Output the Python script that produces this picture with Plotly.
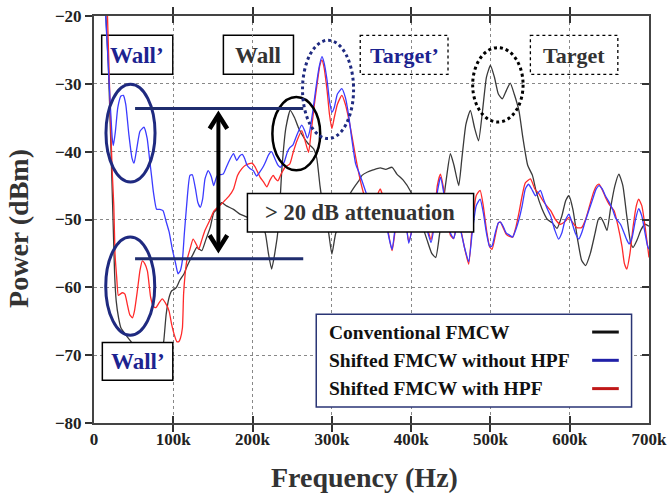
import plotly.graph_objects as go

# ---------------- data (frequency in kHz, power in dBm) ----------------
conv_f = [15, 18, 21, 24, 26, 28, 31, 34, 40, 46, 52, 60, 70, 80, 86, 88, 91, 94.7, 98, 101, 104, 108,
          113.6, 117, 121, 125, 129.6, 133, 136, 141, 146.5, 151, 155, 161, 167, 176, 184, 190, 200,
          210, 216, 220, 224, 228, 232.7, 237, 242, 247.5, 253, 258, 264, 270, 277, 281, 285, 290,
          296, 300, 305, 312, 318, 323, 329.5, 334, 338, 345, 352, 361, 368, 376, 382, 390, 399,
          406, 413, 420, 426, 431, 436, 441, 445, 449.5, 454, 460, 464, 469, 474.7, 480, 485, 490,
          495, 500, 505, 510, 515, 520, 525, 530, 536, 541, 547, 553, 558, 565, 572, 578, 584, 590,
          595, 599, 604, 610, 615, 620, 626, 632, 636, 639, 643, 647, 652, 657, 662, 667, 672, 677,
          680, 685, 690, 695, 700]
conv_p = [-20, -27, -38, -50, -58, -62, -64.5, -66, -67, -67.9, -69, -71, -72, -71, -69, -67.9, -64,
          -61.5, -60.5, -60.3, -60, -59, -58, -57, -56, -55.1, -54.1, -54.4, -54.6, -53, -51.2, -49,
          -48.5, -47.5, -48, -48.5, -49.2, -49.5, -50, -50.5, -52, -55, -57.3, -55, -51, -42.5, -36.5,
          -33.9, -35, -36.5, -37.8, -38.8, -39.6, -41, -45, -49, -52, -55.1, -52, -50.5, -49, -46.2,
          -45, -44.3, -43.5, -43, -42.7, -42.4, -42.6, -42.3, -43.3, -44.2, -45.8, -48, -50.5, -53,
          -55, -55.6, -52, -47, -43.5, -40.3, -42, -45, -41, -36, -33.9, -36.5, -38.4, -34, -29,
          -27.3, -29, -31.5, -32.2, -31, -29.9, -31.5, -34, -38, -42, -43.5, -46, -48.4, -50, -50.5,
          -51.3, -49.5, -47.2, -46.5, -48.5, -53, -56, -56.8, -55, -52, -50, -49.7, -50.5, -51.6,
          -48, -45, -43.3, -45, -49.5, -53.5, -54.1, -53, -51.5, -50.7, -51]

nohpf_f = [14.7, 17, 19, 21, 23, 24.4, 27, 30, 34, 37, 40, 44, 48, 50.5, 54, 58, 63, 67, 70, 72.8, 75,
           79, 83, 87, 91, 94.7, 99, 103, 106, 109, 111.5, 114, 117, 121, 124, 128, 131, 134, 137,
           140, 144, 148, 151, 155, 159, 163, 168, 172, 176, 180, 184, 187, 190, 193, 197, 201, 205,
           209, 213, 216, 220, 224, 228, 232, 235, 240, 244, 247, 251, 256, 262, 266, 269, 272, 276,
           280, 284, 287.5, 290, 294, 297, 300, 303, 307, 312.6, 317, 321, 325, 330, 334, 338, 343,
           348, 352, 356, 361, 366, 370, 376, 380, 384, 389, 393, 397, 401, 405, 410, 415, 420, 425,
           429, 433, 437, 441, 445, 449.5, 453.6, 458, 462, 467, 472.6, 477, 482, 487, 491, 495, 499,
           502, 506, 510, 512.6, 516, 520, 524, 528, 532, 536, 540, 544, 548, 552, 557, 563, 567,
           572, 576, 581, 586, 590, 594, 599, 603, 607, 611.5, 615, 619, 624, 629, 633, 637, 641,
           645, 649, 654, 658, 664, 668, 672, 675, 679, 683, 687, 691, 695, 698, 700]
nohpf_p = [-20, -25, -29.6, -34, -38, -39.1, -37, -33.5, -31.8, -31.7, -33, -37.5, -41, -41.7, -39.5,
           -37, -36.4, -38, -41, -43.8, -46, -48.5, -48.5, -48.7, -50.3, -51.8, -54.5, -56.5, -58,
           -57.5, -56, -52, -47.7, -43.5, -43.4, -45.5, -47.5, -48.2, -47, -44, -42.8, -43.7, -45,
           -43.6, -43.4, -43.3, -42, -41, -40.3, -41.3, -40.6, -40.4, -41, -42, -42.5, -42.8, -43.6,
           -43, -42.3, -41.6, -40.5, -40, -41, -42, -42.3, -41.5, -40, -39.4, -39, -37.5, -36.1, -37,
           -38, -37, -34, -30.5, -27.5, -26, -26.8, -29.5, -32.5, -34.2, -33.5, -31.5, -30.7, -32,
           -34.5, -38, -41.8, -43, -44.3, -46, -47.5, -48.5, -47.5, -46.2, -48, -51.5, -54.4, -51,
           -48, -47.5, -50, -53.5, -51.5, -48.5, -47.5, -49.5, -51.5, -53.4, -51, -46, -43.8, -46,
           -49.5, -52, -52.8, -51, -51.5, -54, -56.2, -52, -48, -47, -49, -52, -54, -53.9, -52,
           -50.5, -50.4, -51, -52, -52.3, -52.6, -51.5, -50, -48, -45.5, -44.8, -45.5, -46.5, -45.7,
           -47, -48.5, -49.5, -51.5, -52.9, -52, -50.2, -49.2, -50.5, -52, -52.9, -52, -50.5, -48.7,
           -47, -45.6, -45, -45.5, -46.5, -47.3, -48.5, -49.8, -50.7, -51.8, -53, -53.6, -52.5, -50,
           -48.4, -49.5, -52, -53.8, -54.4]

hpf_f = [17, 19, 21, 23, 25, 26.5, 28.6, 30.7, 33, 35.8, 39, 42, 45, 48.4, 51, 54.7, 58, 61, 64, 67.4,
         71.5, 75, 78, 82, 86, 90, 94.7, 98, 101, 104.4, 107, 109, 111.5, 113, 115, 117, 121, 125,
         129.6, 132, 136, 140, 146.5, 151, 155, 160, 165, 170, 176, 181, 186.5, 191, 195, 199, 203,
         209.6, 214, 218, 222, 226, 229, 232, 236, 241, 247, 251, 256, 262, 266, 270.6, 274, 278,
         282, 285, 287.5, 290, 294, 297, 300, 303, 307, 312.6, 317, 321, 325, 330, 336, 341, 346,
         352, 357, 361, 366, 370, 376, 380, 384, 389, 393, 397, 401, 405, 410, 415, 420, 425, 429,
         433, 437, 441, 445, 449.5, 453.6, 458, 462, 467, 472.6, 477, 482, 487, 491, 495, 499, 502,
         506, 510, 512.6, 516, 520, 524, 528, 532, 536, 540, 544, 550.5, 556, 561, 566, 571, 576,
         582, 588, 594, 599, 604, 609, 615, 620, 625, 630, 634, 637, 641, 645, 650, 656, 661, 666,
         669, 672, 676, 680, 684, 687, 691, 695, 700]
hpf_p = [-20, -28, -36, -43, -48, -55, -58.5, -61.2, -61, -60.8, -61, -62.5, -64, -64.5, -63.5, -60.5,
         -57.5, -56.1, -56.5, -57.6, -61.5, -62.8, -63, -62.3, -61.7, -62.3, -63.5, -65.5, -66.9, -68,
         -68, -67.5, -66, -61, -58, -56.1, -54.4, -52.9, -53.8, -54.4, -53, -51.6, -50, -48.8, -48.3,
         -47.8, -47.2, -46.6, -45.5, -43.5, -42.5, -42, -41.8, -41.7, -42.2, -43.8, -44.5, -45.2,
         -44.2, -43.5, -44, -44.3, -43.3, -42.3, -41.8, -40.2, -38.4, -36.9, -38.3, -40.1, -37, -33,
         -29.5, -27.2, -26.5, -27.5, -31, -34.5, -36.6, -35, -33, -31.7, -33, -35, -37.5, -40.8,
         -44.3, -46.5, -48, -48.3, -46.5, -45.5, -47.5, -51, -54.6, -51.5, -48.5, -47.5, -50, -53.3,
         -51.5, -48.5, -47, -49, -51, -53, -50, -45, -43.3, -45.5, -49, -52.3, -52.8, -50.7, -51.3,
         -54, -56.6, -51, -46.5, -45.7, -48, -51.5, -54, -54.4, -52.5, -50.5, -50.4, -51.2, -52.2,
         -52.5, -52.6, -51.2, -49, -46.5, -44.6, -44, -45.5, -46.2, -47.2, -48, -48.7, -50, -50.7,
         -50.3, -49.7, -50.5, -51.2, -51.2, -50, -48, -46, -45, -44.8, -45.6, -46.7, -47.8, -48.7,
         -51, -54, -56.5, -57.3, -55, -51, -48, -47, -48, -51, -55.6]

series_names = ["Conventional FMCW", "Shifted FMCW without HPF", "Shifted FMCW with HPF"]
x_tick_vals_k = [0, 100, 200, 300, 400, 500, 600, 700]
x_tick_text = ["0", "100k", "200k", "300k", "400k", "500k", "600k", "700k"]
y_tick_vals = [-80, -70, -60, -50, -40, -30, -20]

# ---------------- figure ----------------
SERIF = "Liberation Serif, Times New Roman, serif"
NAVY = "#1f2a80"
DARK = "#333333"

def hz(v):
    return [a * 1000 for a in v]

fig = go.Figure()
curves = [
    (conv_f, conv_p, "#3a3a3a"),
    (hpf_f, hpf_p, "#ff2a2a"),
    (nohpf_f, nohpf_p, "#3b3bff"),
]
for (f, p, c), name in zip(curves, [series_names[0], series_names[2], series_names[1]]):
    fig.add_trace(go.Scatter(x=hz(f), y=p, mode="lines", name=name,
                             line=dict(color=c, width=1.3, shape="spline", smoothing=0.5),
                             showlegend=False, cliponaxis=True))
# dummy trace for right axis ticks
fig.add_trace(go.Scatter(x=[None], y=[None], yaxis="y2", showlegend=False, hoverinfo="skip"))

shapes = []
# top Wall' box (below curves)
shapes.append(dict(type="rect", x0=9.7e3, x1=99.4e3, y0=-22.85, y1=-28.6, xref="x", yref="y",
                   line=dict(color="black", width=1.5), fillcolor="white", layer="below"))
# Wall box
shapes.append(dict(type="rect", x0=163.2e3, x1=251.6e3, y0=-22.85, y1=-28.6,
                   line=dict(color="black", width=1.5), fillcolor="white", layer="below"))
# Target' and Target boxes (dotted)
shapes.append(dict(type="rect", x0=335.8e3, x1=446.5e3, y0=-22.85, y1=-28.6,
                   line=dict(color="black", width=1.3, dash="dot"), fillcolor="white", layer="below"))
shapes.append(dict(type="rect", x0=550.4e3, x1=660.7e3, y0=-22.85, y1=-28.6,
                   line=dict(color="black", width=1.3, dash="dot"), fillcolor="white", layer="below"))
# > 20 dB box
shapes.append(dict(type="rect", x0=193.5e3, x1=478.8e3, y0=-46.18, y1=-51.84,
                   line=dict(color="black", width=1.5), fillcolor="white", layer="above"))
# bottom Wall' box
shapes.append(dict(type="rect", x0=10.5e3, x1=99.4e3, y0=-68.15, y1=-73.71,
                   line=dict(color="black", width=1.5), fillcolor="white", layer="above"))
# legend box
shapes.append(dict(type="rect", x0=280.3e3, x1=678e3, y0=-63.98, y1=-77.64,
                   line=dict(color="#2a3575", width=1.5), fillcolor="white", layer="above"))
# ellipses
shapes.append(dict(type="circle", x0=15.1e3, x1=77e3, y0=-30.07, y1=-44.46,
                   line=dict(color=NAVY, width=3), layer="above"))
shapes.append(dict(type="circle", x0=14.8e3, x1=76.6e3, y0=-52.58, y1=-67.07,
                   line=dict(color=NAVY, width=3), layer="above"))
shapes.append(dict(type="circle", x0=225e3, x1=285.3e3, y0=-31.94, y1=-42.75,
                   line=dict(color="black", width=2.5), layer="above"))
shapes.append(dict(type="circle", x0=263e3, x1=327.4e3, y0=-23.58, y1=-38.07,
                   line=dict(color=NAVY, width=3, dash="dot"), layer="above"))
shapes.append(dict(type="circle", x0=477.6e3, x1=541.2e3, y0=-24.66, y1=-35.63,
                   line=dict(color="black", width=3, dash="dot"), layer="above"))
# horizontal reference lines
shapes.append(dict(type="line", x0=51.8e3, x1=263.9e3, y0=-33.65, y1=-33.65,
                   line=dict(color="#1f2d6e", width=3), layer="above"))
shapes.append(dict(type="line", x0=51.8e3, x1=263.9e3, y0=-55.77, y1=-55.77,
                   line=dict(color="#1f2d6e", width=3), layer="above"))
# double arrow
shapes.append(dict(type="line", x0=156.9e3, x1=156.9e3, y0=-34.8, y1=-54.1,
                   line=dict(color="black", width=4), layer="above"))
shapes.append(dict(type="path", path="M 145800,-36.63 L 156900,-34.57 L 168000,-36.63",
                   line=dict(color="black", width=4.5), layer="above"))
shapes.append(dict(type="path", path="M 145800,-52.33 L 156900,-54.40 L 168000,-52.33",
                   line=dict(color="black", width=4.5), layer="above"))
# legend samples
for yv, col in zip([-66.59, -70.76, -74.93], ["#111111", "#2020a8", "#c01818"]):
    shapes.append(dict(type="line", x0=628.3e3, x1=661.9e3, y0=yv, y1=yv,
                       line=dict(color=col, width=3), layer="above"))

annotations = []
def txt(x, y, s, color, size, xanchor="center"):
    annotations.append(dict(x=x, y=y, xref="x", yref="y", text="<b>" + s + "</b>", showarrow=False,
                            xanchor=xanchor, yanchor="middle",
                            font=dict(family=SERIF, size=size, color=color)))

txt(54.5e3, -25.8, "Wall\u2019", "#1c2390", 23)
txt(207.4e3, -25.8, "Wall", DARK, 23)
txt(391.1e3, -25.8, "Target\u2019", "#1c2390", 22)
txt(605.5e3, -25.8, "Target", DARK, 22)
txt(336.1e3, -49.0, "&gt; 20 dB attenuation", DARK, 22.5)
txt(54.9e3, -71.0, "Wall\u2019", "#1c2390", 23)
for yv, s in zip([-66.59, -70.76, -74.93], series_names):
    txt(293.8e3, yv, s, "#111111", 19.5, xanchor="left")

# axis titles
annotations.append(dict(x=0.4865, y=-0.135, xref="paper", yref="paper", text="<b>Frequency (Hz)</b>",
                        showarrow=False, xanchor="center", yanchor="middle",
                        font=dict(family=SERIF, size=28, color=DARK)))
annotations.append(dict(x=-0.135, y=0.477, xref="paper", yref="paper", text="<b>Power (dBm)</b>",
                        showarrow=False, xanchor="center", yanchor="middle", textangle=-90,
                        font=dict(family=SERIF, size=28, color=DARK)))

tickfont = dict(family=SERIF, size=17, color="#222222", weight="bold")
fig.update_layout(
    width=667, height=496,
    margin=dict(l=94, r=18, t=16, b=73, autoexpand=False),
    paper_bgcolor="white", plot_bgcolor="white",
    showlegend=False,
    shapes=shapes, annotations=annotations,
    xaxis=dict(range=[0, 700e3], tickvals=hz(x_tick_vals_k), ticktext=x_tick_text,
               tickfont=tickfont, ticks="inside", ticklen=7, tickwidth=1.5, tickcolor="#333",
               ticklabeloverflow="allow", automargin=False,
               showline=True, linecolor="#444", linewidth=2, mirror="allticks",
               showgrid=True, gridcolor="#888", gridwidth=1, griddash="dot", zeroline=False),
    yaxis=dict(range=[-80, -20], tickvals=y_tick_vals, tickfont=tickfont, automargin=False,
               ticks="outside", ticklen=7, tickwidth=1.5, tickcolor="#333",
               showline=True, linecolor="#444", linewidth=2, mirror=True,
               showgrid=True, gridcolor="#888", gridwidth=1, griddash="dot", zeroline=False),
    yaxis2=dict(range=[-80, -20], overlaying="y", side="right", tickvals=y_tick_vals,
                showticklabels=False, ticks="inside", ticklen=7, tickwidth=1.5, tickcolor="#333",
                showgrid=False, showline=False, zeroline=False, automargin=False),
)

fig.write_html("out.html", config={"displayModeBar": False},
               post_script="document.body.style.margin='0px';document.body.style.overflow='hidden';")
